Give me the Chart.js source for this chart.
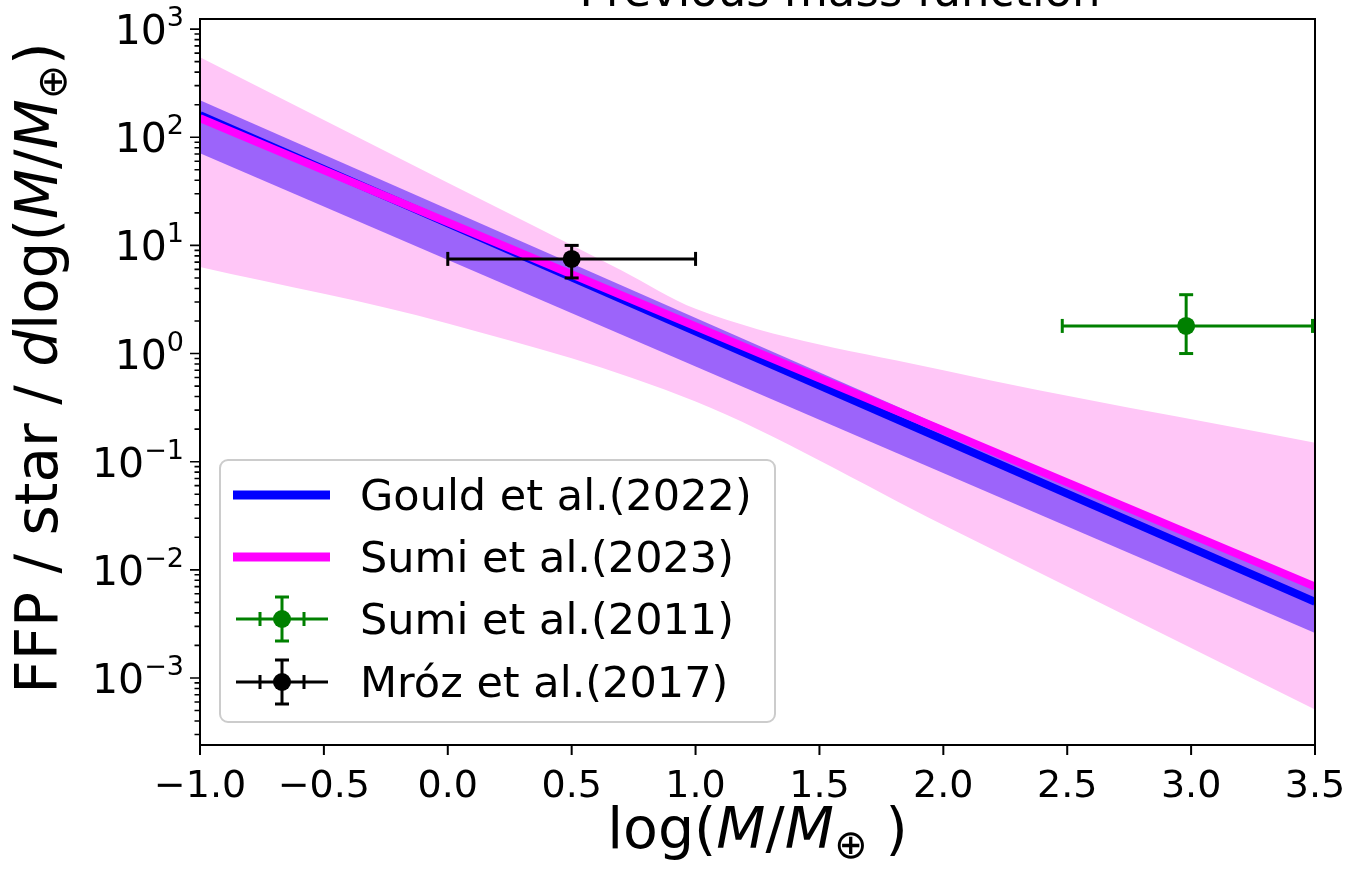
<!DOCTYPE html>
<html>
<head>
<meta charset="utf-8">
<script src="https://cdn.jsdelivr.net/npm/chart.js@4.4.0/dist/chart.umd.min.js"></script>
<style>
  html, body { margin: 0; padding: 0; background: #fff; }
  #wrap { width: 1350px; height: 876px; position: relative; }
</style>
</head>
<body>
<div id="wrap"><canvas id="chart"></canvas></div>
<script>
'use strict';

// ---- data ----
const xRange = [-1.0, 3.5];
const yRange = [2.4e-4, 1.24e3];
const xTickValues = [-1.0, -0.5, 0.0, 0.5, 1.0, 1.5, 2.0, 2.5, 3.0, 3.5];
const yDecades = [-3, -2, -1, 0, 1, 2, 3];

// Gould et al. (2022) power law and its band
const gouldX = [-1.0, 3.5];
const gouldY = [160, 5.06e-3];
const gouldUpper = [220, 6.5e-3];
const gouldLower = [71, 2.6e-3];

// Sumi et al. (2023) power law and its band
const sumi23X = [-1.0, 3.5];
const sumi23Y = [150, 7.0e-3];
const sumi23UpperX = [-1.0, 0.0, 0.7, 1.0, 2.0, 3.5];
const sumi23Upper = [550, 38, 5.9, 2.6, 0.7, 0.15];
const sumi23LowerX = [-1.0, 0.0, 1.0, 2.0, 3.5];
const sumi23Lower = [6.3, 1.9, 0.36, 0.026, 5.1e-4];

// Sumi et al. (2011) point with errors
const sumi11X = 2.98, sumi11XErr = [2.48, 3.49];
const sumi11Y = 1.8, sumi11YErr = [1.0, 3.5];

// Mróz et al. (2017) point with errors
const mrozX = 0.5, mrozXErr = [0.0, 1.0];
const mrozY = 7.5, mrozYErr = [5.0, 10.0];

const labels = ['Gould et al.(2022)', 'Sumi et al.(2023)', 'Sumi et al.(2011)', 'Mróz et al.(2017)'];

const FONT = '"DejaVu Sans"';
Chart.defaults.font.family = FONT;
Chart.defaults.color = '#000';

const pts = (xs, ys) => xs.map((x, i) => ({ x: x, y: ys[i] }));

function lineSet(data, color, width, order, extra) {
    return Object.assign({
        data: data, borderColor: color, backgroundColor: color, borderWidth: width,
        pointRadius: 0, showLine: true, fill: false, order: order, tension: 0
    }, extra || {});
}

function errorSets(x, xe, y, ye, color, order) {
    return [
        lineSet([{ x: xe[0], y: y }, { x: xe[1], y: y }], color, 3, order, {
            pointRadius: 7, pointStyle: 'line', rotation: 90, pointBorderWidth: 3, pointBorderColor: color
        }),
        lineSet([{ x: x, y: ye[0] }, { x: x, y: ye[1] }], color, 3, order, {
            pointRadius: 7, pointStyle: 'line', rotation: 0, pointBorderWidth: 3, pointBorderColor: color
        }),
        lineSet([{ x: x, y: y }], color, 0, order, {
            showLine: false, pointRadius: 9, pointStyle: 'circle', pointBackgroundColor: color, pointBorderWidth: 0
        })
    ];
}

const PINK = '#ffc6f7';
const PURPLE = '#9c64fa';
const smooth = { tension: 0.4, cubicInterpolationMode: 'monotone' };

const datasets = [
    // 0,1 pink band
    lineSet(pts(sumi23UpperX, sumi23Upper), PINK, 0, 5, Object.assign({ fill: { target: 1 }, backgroundColor: PINK }, smooth)),
    lineSet(pts(sumi23LowerX, sumi23Lower), PINK, 0, 5, smooth),
    // 2,3 purple band
    lineSet(pts(gouldX, gouldUpper), PURPLE, 0, 4, { fill: { target: 3 }, backgroundColor: PURPLE }),
    lineSet(pts(gouldX, gouldLower), PURPLE, 0, 4),
    // 4 blue line, 5 magenta line
    lineSet(pts(gouldX, gouldY), '#0000ff', 8, 3, { label: labels[0] }),
    lineSet(pts(sumi23X, sumi23Y), '#ff00ff', 8, 2, { label: labels[1] })
].concat(
    errorSets(sumi11X, sumi11XErr, sumi11Y, sumi11YErr, '#008000', 1),
    errorSets(mrozX, mrozXErr, mrozY, mrozYErr, '#000000', 0)
);

function drawRich(ctx, segs, size) {
    let w = 0;
    segs.forEach(s => {
        ctx.font = (s.it ? 'italic ' : '') + Math.round(size * (s.k || 1)) + 'px ' + FONT;
        s.w = ctx.measureText(s.t).width;
        w += s.w;
    });
    let x = -w / 2;
    segs.forEach(s => {
        ctx.font = (s.it ? 'italic ' : '') + Math.round(size * (s.k || 1)) + 'px ' + FONT;
        ctx.fillText(s.t, x, s.dy || 0);
        x += s.w;
    });
}

function drawErrGlyph(ctx, cx, cy, color) {
    ctx.strokeStyle = color; ctx.fillStyle = color; ctx.lineWidth = 3;
    ctx.beginPath();
    ctx.moveTo(cx - 46, cy); ctx.lineTo(cx + 46, cy);
    ctx.moveTo(cx - 22, cy - 7); ctx.lineTo(cx - 22, cy + 7);
    ctx.moveTo(cx + 22, cy - 7); ctx.lineTo(cx + 22, cy + 7);
    ctx.moveTo(cx, cy - 22); ctx.lineTo(cx, cy + 22);
    ctx.moveTo(cx - 7, cy - 22); ctx.lineTo(cx + 7, cy - 22);
    ctx.moveTo(cx - 7, cy + 22); ctx.lineTo(cx + 7, cy + 22);
    ctx.stroke();
    ctx.beginPath(); ctx.arc(cx, cy, 9, 0, Math.PI * 2); ctx.fill();
}

const decor = {
    id: 'decor',
    afterDraw(chart) {
        const ctx = chart.ctx, a = chart.chartArea;
        const xs = chart.scales.x, ys = chart.scales.y;
        ctx.save();
        ctx.fillStyle = '#000'; ctx.strokeStyle = '#000';

        // frame
        ctx.lineWidth = 2;
        ctx.strokeRect(a.left, a.top, a.right - a.left, a.bottom - a.top);

        // x ticks
        ctx.beginPath();
        xTickValues.forEach(v => {
            const px = xs.getPixelForValue(v);
            ctx.moveTo(px, a.bottom); ctx.lineTo(px, a.bottom + 10);
        });
        ctx.stroke();

        // y major + minor ticks
        ctx.beginPath();
        for (let n = -4; n <= 3; n++) {
            for (let m = 1; m <= 9; m++) {
                const v = m * Math.pow(10, n);
                if (v < yRange[0] || v > yRange[1]) continue;
                const py = ys.getPixelForValue(v);
                ctx.moveTo(a.left, py); ctx.lineTo(a.left - (m === 1 ? 10 : 5.5), py);
            }
        }
        ctx.lineWidth = 1.6;
        ctx.stroke();

        // y tick labels 10^n
        ctx.textAlign = 'left'; ctx.textBaseline = 'alphabetic';
        yDecades.forEach(n => {
            const py = ys.getPixelForValue(Math.pow(10, n));
            const sup = n < 0 ? '−' + Math.abs(n) : String(n);
            ctx.font = '27px ' + FONT;
            const sw = ctx.measureText(sup).width;
            ctx.font = '41px ' + FONT;
            const bw = ctx.measureText('10').width;
            const right = a.left - 16;
            ctx.fillText('10', right - sw - bw, py + 15);
            ctx.font = '27px ' + FONT;
            ctx.fillText(sup, right - sw, py - 3);
        });

        // y axis title
        ctx.save();
        ctx.translate(57, 368);
        ctx.rotate(-Math.PI / 2);
        drawRich(ctx, [
            { t: 'FFP / star / ' }, { t: 'd', it: true }, { t: 'log(' },
            { t: 'M', it: true }, { t: '/' }, { t: 'M', it: true },
            { t: '⊕', k: 0.7, dy: 9 }, { t: ')' }
        ], 58);
        ctx.restore();

        // x axis title
        ctx.save();
        ctx.translate((a.left + a.right) / 2, 848);
        drawRich(ctx, [
            { t: 'log(' }, { t: 'M', it: true }, { t: '/' }, { t: 'M', it: true },
            { t: '⊕', k: 0.7, dy: 10 }, { t: ' )' }
        ], 57);
        ctx.restore();

        // title (mostly above the visible area)
        ctx.font = '45px ' + FONT;
        ctx.textAlign = 'center';
        ctx.fillText('Previous mass function', 840, 6);

        // legend
        const lx = 220, ly = 460, lw = 555, lh = 262, r = 8;
        ctx.beginPath();
        ctx.roundRect(lx, ly, lw, lh, r);
        ctx.fillStyle = 'rgba(255,255,255,0.8)';
        ctx.fill();
        ctx.strokeStyle = '#cccccc'; ctx.lineWidth = 2;
        ctx.stroke();

        const rowY = [495, 557, 619, 682];
        const colors = ['#0000ff', '#ff00ff', '#008000', '#000000'];
        rowY.forEach((yy, i) => {
            if (i < 2) {
                ctx.strokeStyle = colors[i]; ctx.lineWidth = 9;
                ctx.beginPath(); ctx.moveTo(233, yy); ctx.lineTo(330, yy); ctx.stroke();
            } else {
                drawErrGlyph(ctx, 282, yy, colors[i]);
            }
            ctx.fillStyle = '#000';
            ctx.font = '43px ' + FONT;
            ctx.textAlign = 'left';
            ctx.fillText(labels[i], 360, yy + 15);
        });
        ctx.restore();
    }
};

new Chart(document.getElementById('chart'), {
    type: 'line',
    data: { datasets: datasets },
    options: {
        responsive: true,
        maintainAspectRatio: false,
        animation: false,
        devicePixelRatio: 1,
        layout: { padding: { left: 0, right: 35, top: 19, bottom: 0 } },
        scales: {
            x: {
                type: 'linear', min: xRange[0], max: xRange[1],
                afterBuildTicks: s => { s.ticks = xTickValues.map(v => ({ value: v })); },
                afterFit: s => { s.height = 131; s.paddingLeft = 0; s.paddingRight = 0; },
                grid: { display: false }, border: { display: false },
                ticks: {
                    padding: 11, font: { size: 38 }, color: '#000', maxRotation: 0,
                    callback: v => (v < 0 ? '−' : '') + Math.abs(v).toFixed(1)
                }
            },
            y: {
                type: 'logarithmic', min: yRange[0], max: yRange[1],
                afterFit: s => { s.width = 200; },
                grid: { display: false }, border: { display: false },
                ticks: { display: false }
            }
        },
        plugins: {
            legend: { display: false },
            tooltip: { enabled: false },
            filler: { propagate: false }
        }
    },
    plugins: [decor]
});
</script>
</body>
</html>
